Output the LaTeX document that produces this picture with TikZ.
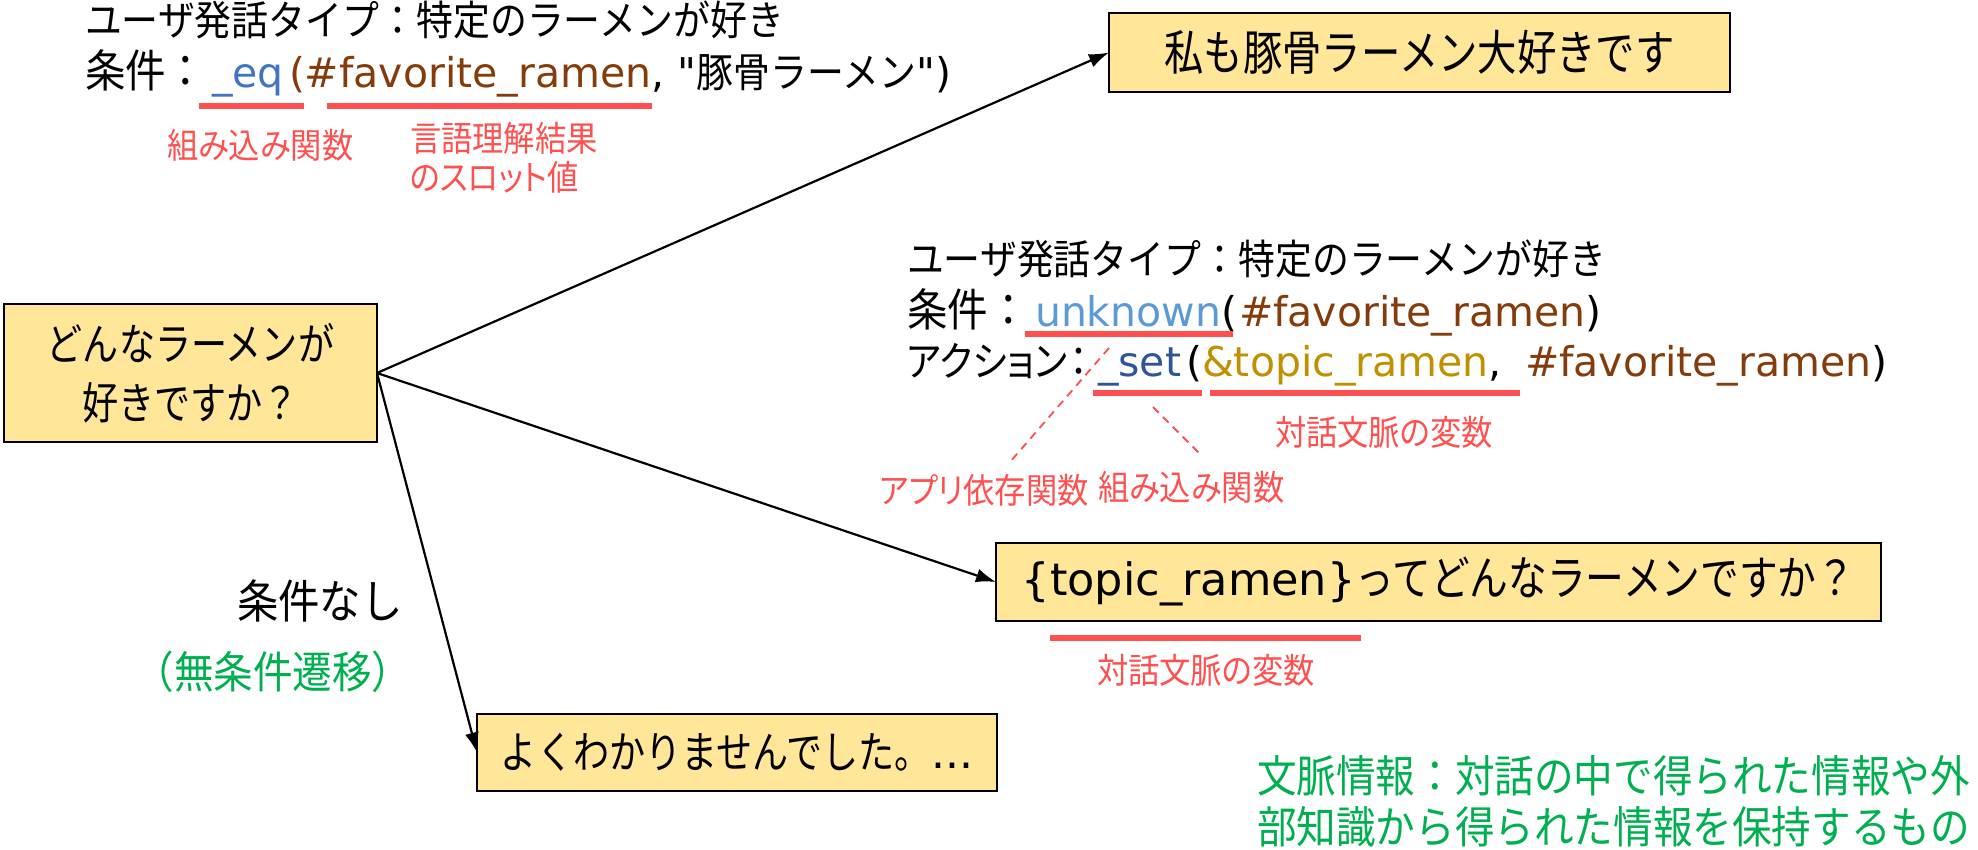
\documentclass[tikz,border=0pt]{standalone}
\usepackage{fontspec}
\setmainfont{DejaVu Sans}
\newfontfamily\plainfont{DejaVu Sans}
\newfontfamily\jp[FakeStretch=0.9]{Noto Sans CJK JP}
\newfontfamily\jpb[FakeStretch=0.82]{Noto Sans CJK JP}
\newfontfamily\jpp[FakeStretch=0.9,RawFeature=+palt]{Noto Sans CJK JP}
\usetikzlibrary{arrows.meta}
\definecolor{boxfill}{HTML}{FFE699}
\definecolor{labelred}{HTML}{FF5050}
\definecolor{cblue}{HTML}{4472C4}
\definecolor{clblue}{HTML}{5B9BD5}
\definecolor{cdblue}{HTML}{2F5597}
\definecolor{cbrown}{HTML}{843C0C}
\definecolor{cgold}{HTML}{BF9000}
\definecolor{cgreen}{HTML}{00B050}
\begin{document}
\begin{tikzpicture}[x=0.5pt,y=-0.5pt,
  every node/.style={inner sep=0pt, outer sep=0pt},
  code/.style={anchor=base west, font=\fontsize{20.5}{24}\selectfont},
  cond/.style={anchor=base west, font=\fontsize{22.5}{26}\selectfont\jp},
  lbl/.style={anchor=west, text=labelred, font=\fontsize{17.4}{21}\selectfont\jpp},
  stbox/.style={draw=black, line width=1pt, fill=boxfill, align=center},
  uline/.style={draw=labelred, line width=3pt},
  arr/.style={-{Latex[length=10pt,width=7pt]}, line width=1.1pt},
  dsh/.style={draw=labelred, line width=0.9pt, dash pattern=on 4pt off 3pt}]
\useasboundingbox (0,0) rectangle (1978,850);

% state boxes
\node[stbox, minimum width=186.5pt, minimum height=69pt, font=\fontsize{22}{29.5}\selectfont\jpb] (q) at (190.5,373) {どんなラーメンが\\好きですか？};
\node[stbox, minimum width=310.5pt, minimum height=39.5pt, font=\fontsize{24}{28}\selectfont\jpb] (a1) at (1419.5,52.5) {私も豚骨ラーメン大好きです};
\node[stbox, minimum width=442.5pt, minimum height=39pt, font=\fontsize{22.3}{26}\selectfont] (a2) at (1438.5,582) {\{topic\_ramen\}{\jpb\fontsize{23.6}{26}\selectfont ってどんなラーメンですか？}};
\node[stbox, minimum width=260pt, minimum height=38.5pt, font=\fontsize{22}{26}\selectfont] (a3) at (737,752.5) {{\jpb よくわかりませんでした。}...};

% transitions
\draw[arr] (q.east) -- (a1.west);
\draw[arr] (q.east) -- (a2.west);
\draw[arr] (q.east) -- (a3.west);

% top condition block
\node[code] (t1) at (85,36) {\jp ユーザ発話タイプ：特定のラーメンが好き};
\node[cond] (t2a) at (85,88) {条件：};
\node[code, text=cblue] (t2b) at (212,88) {\_eq};
\node[code] (t2c) at (289,88) {{\color{cbrown}(\#favorite\_ramen}, {\plainfont"}{\jp 豚骨ラーメン}{\plainfont"})};
\draw[uline] (199,106) -- (304,106);
\draw[uline] (327,106) -- (652,106);
\node[lbl] (l1) at (167,145) {組み込み関数};
\node[lbl] (l2) at (410,138) {言語理解結果};
\node[lbl] (l3) at (410,177) {のスロット値};

% middle condition block
\node[code] (m1) at (907,275) {\jp ユーザ発話タイプ：特定のラーメンが好き};
\node[cond] (m2a) at (907,327) {条件：};
\node[code] (m2b) at (1035,327) {{\color{clblue}unknown}(};
\node[code] (m2c) at (1239,327) {{\color{cbrown}\#favorite\_ramen})};
\node[code] (m3a) at (907,377) {\jpp アクション};
\node[code] (m3col) at (1060,377) {\jp ：};
\node[code, text=cdblue] (m3b) at (1098,377) {\_set};
\node[code] (m3c) at (1186,377) {({\color{cgold}\&topic\_ramen},};
\node[code] (m3d) at (1525,377) {{\color{cbrown}\#favorite\_ramen})};
\draw[uline] (1025,334) -- (1233,334);
\draw[uline] (1093,393) -- (1202,393);
\draw[uline] (1210,393) -- (1520,393);
\draw[dsh] (1109,348) -- (1010,462);
\draw[dsh] (1153,407) -- (1200,454);
\node[lbl] (l4) at (880,490) {アプリ依存関数};
\node[lbl] (l5) at (1098,487) {組み込み関数};
\node[lbl] (l6) at (1275,432) {対話文脈の変数};

% under the topic box
\draw[uline] (1050,638) -- (1361,638);
\node[lbl] (l7) at (1097,670) {対話文脈の変数};

% unconditional transition
\node[font=\fontsize{23}{27}\selectfont\jp] (c0) at (320,601) {条件なし};
\node[text=cgreen, font=\fontsize{22}{26}\selectfont\jp] (c1) at (273,672) {（無条件遷移）};

% context note
\node[anchor=west, text=cgreen, font=\fontsize{22}{26}\selectfont\jp] (g1) at (1257,776) {文脈情報：対話の中で得られた情報や外};
\node[anchor=west, text=cgreen, font=\fontsize{22}{26}\selectfont\jp] (g2) at (1257,827) {部知識から得られた情報を保持するもの};
\end{tikzpicture}
\end{document}
